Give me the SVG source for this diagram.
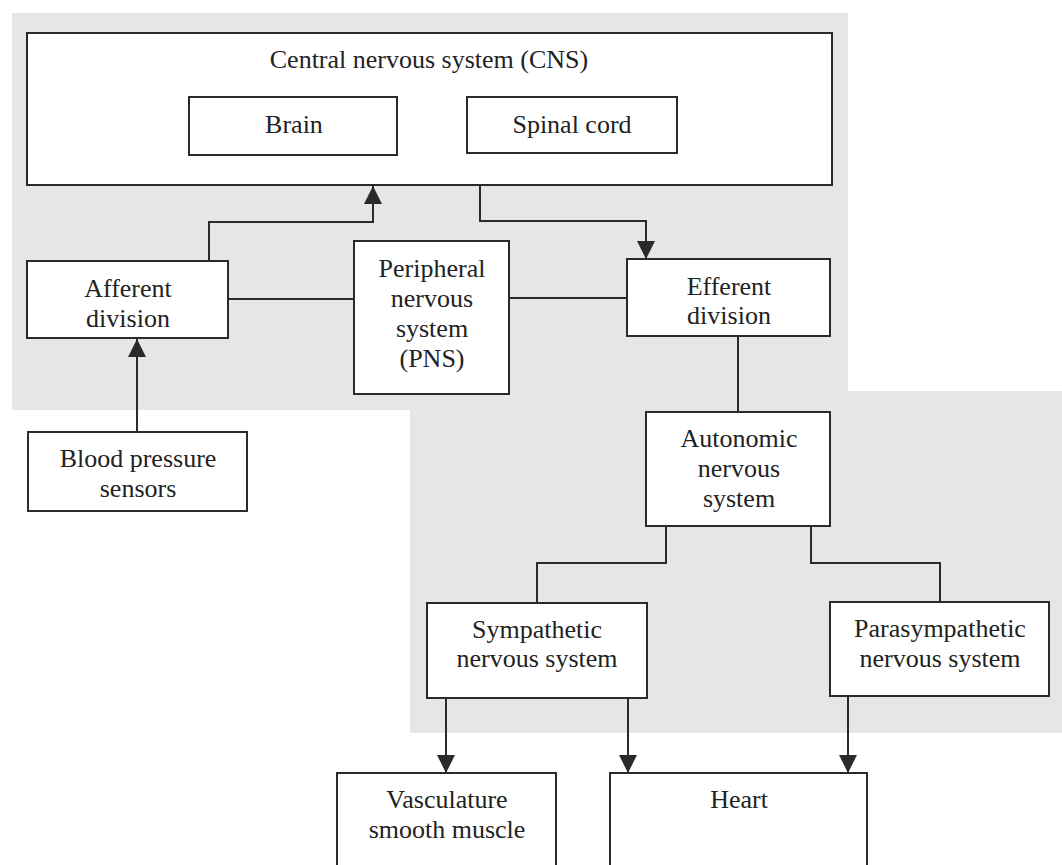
<svg xmlns="http://www.w3.org/2000/svg" width="1062" height="865" viewBox="0 0 1062 865">
  <style>
    .bg { fill: #e6e6e6; }
    .box { fill: #ffffff; stroke: #2a2a2a; stroke-width: 2; }
    .lbl { font-family: "Liberation Serif", "Times New Roman", serif; font-size: 26px; fill: #222222; text-anchor: middle; }
    .conn { fill: none; stroke: #2a2a2a; stroke-width: 2; }
  </style>
  <defs>
    <marker id="ah" markerUnits="userSpaceOnUse" markerWidth="18" markerHeight="18" viewBox="0 0 18 18" refX="18" refY="9" orient="auto">
      <path d="M0,0 L18,9 L0,18 z" fill="#2a2a2a"/>
    </marker>
  </defs>
  <rect x="0" y="0" width="1062" height="865" fill="#ffffff"/>
  <path class="bg" d="M12,13 H848 V391 H1062 V733 H410 V410 H12 Z"/>

  <g id="connectors">
    <path class="conn" d="M209,261 V222 H373 V186" marker-end="url(#ah)"/>
    <path class="conn" d="M480,185 V221 H646 V259" marker-end="url(#ah)"/>
    <path class="conn" d="M228,299 H354"/>
    <path class="conn" d="M509,298 H627"/>
    <path class="conn" d="M738,336 V412"/>
    <path class="conn" d="M666,526 V563 H537 V603"/>
    <path class="conn" d="M811,526 V563 H940 V602"/>
    <path class="conn" d="M137,432 V339" marker-end="url(#ah)"/>
    <path class="conn" d="M446,698 V773" marker-end="url(#ah)"/>
    <path class="conn" d="M628,698 V773" marker-end="url(#ah)"/>
    <path class="conn" d="M848,696 V773" marker-end="url(#ah)"/>
  </g>

  <g id="cns">
    <rect class="box" x="27" y="33" width="805" height="152"/>
    <text class="lbl" x="429" y="68">Central nervous system (CNS)</text>
  </g>
  <g id="brain">
    <rect class="box" x="189" y="97" width="208" height="58"/>
    <text class="lbl" x="294" y="133">Brain</text>
  </g>
  <g id="spinal-cord">
    <rect class="box" x="467" y="97" width="210" height="56"/>
    <text class="lbl" x="572" y="133">Spinal cord</text>
  </g>
  <g id="afferent">
    <rect class="box" x="27" y="261" width="201" height="77"/>
    <text class="lbl" x="128" y="297">Afferent</text>
    <text class="lbl" x="128" y="327">division</text>
  </g>
  <g id="pns">
    <rect class="box" x="354" y="241" width="155" height="153"/>
    <text class="lbl" x="432" y="277">Peripheral</text>
    <text class="lbl" x="432" y="307">nervous</text>
    <text class="lbl" x="432" y="337">system</text>
    <text class="lbl" x="432" y="367">(PNS)</text>
  </g>
  <g id="efferent">
    <rect class="box" x="627" y="259" width="203" height="77"/>
    <text class="lbl" x="729" y="295">Efferent</text>
    <text class="lbl" x="729" y="324">division</text>
  </g>
  <g id="bp-sensors">
    <rect class="box" x="28" y="432" width="219" height="79"/>
    <text class="lbl" x="138" y="467">Blood pressure</text>
    <text class="lbl" x="138" y="497">sensors</text>
  </g>
  <g id="autonomic">
    <rect class="box" x="646" y="412" width="184" height="114"/>
    <text class="lbl" x="739" y="447">Autonomic</text>
    <text class="lbl" x="739" y="477">nervous</text>
    <text class="lbl" x="739" y="507">system</text>
  </g>
  <g id="sympathetic">
    <rect class="box" x="427" y="603" width="220" height="95"/>
    <text class="lbl" x="537" y="638">Sympathetic</text>
    <text class="lbl" x="537" y="667">nervous system</text>
  </g>
  <g id="parasympathetic">
    <rect class="box" x="830" y="602" width="219" height="94"/>
    <text class="lbl" x="940" y="637">Parasympathetic</text>
    <text class="lbl" x="940" y="667">nervous system</text>
  </g>
  <g id="vasculature">
    <rect class="box" x="337" y="773" width="219" height="100"/>
    <text class="lbl" x="447" y="808">Vasculature</text>
    <text class="lbl" x="447" y="838">smooth muscle</text>
  </g>
  <g id="heart">
    <rect class="box" x="610" y="773" width="257" height="100"/>
    <text class="lbl" x="739" y="808">Heart</text>
  </g>
</svg>
